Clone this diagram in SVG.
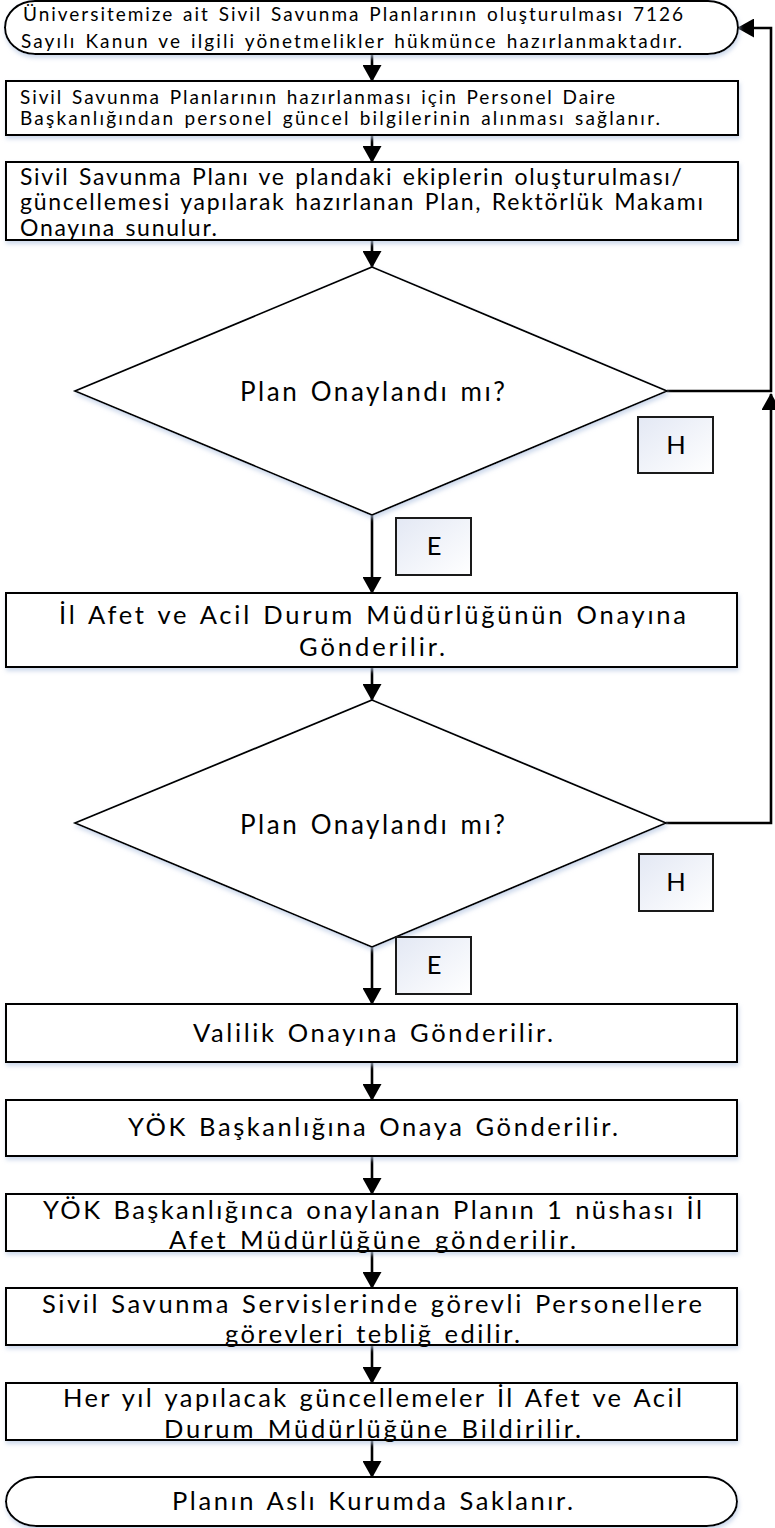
<svg xmlns="http://www.w3.org/2000/svg" width="775" height="1528" viewBox="0 0 775 1528">
<defs>
<style>
.shape{fill:#fff;stroke:#000;stroke-width:2;filter:url(#sh)}
.dia{fill:#fff;stroke:#000;stroke-width:1.8;filter:url(#sh)}
.lbl{fill:url(#lg);stroke:#1a1a1a;stroke-width:2}
.t{font-family:Lato,"Open Sans","Liberation Sans",sans-serif;fill:#000;word-spacing:2px}
.s15{font-size:19px}
.s18{font-size:23px}
.s19{font-size:25.5px}
.s20{font-size:26px}
.c{text-anchor:middle}
.con{fill:none;stroke:#000;stroke-width:2.6}
</style>
<linearGradient id="lg" x1="0" y1="0" x2="1" y2="1">
<stop offset="0" stop-color="#e3e8f4"/>
<stop offset="1" stop-color="#ffffff"/>
</linearGradient>
<filter id="sh" x="-5%" y="-10%" width="110%" height="130%">
<feDropShadow dx="1" dy="3" stdDeviation="2" flood-color="#b9c9e4" flood-opacity="0.7"/>
</filter>
<marker id="ah" viewBox="0 0 17 19" markerWidth="17" markerHeight="19" refX="16" refY="9.5" orient="auto" markerUnits="userSpaceOnUse">
<path d="M0,0 L17,9.5 L0,19 Z" fill="#000"/>
</marker>
</defs>
<rect width="775" height="1528" fill="#fff"/>

<g id="connectors">
<line class="con" x1="372" y1="54" x2="372" y2="81" marker-end="url(#ah)"/>
<line class="con" x1="372" y1="135" x2="372" y2="162" marker-end="url(#ah)"/>
<line class="con" x1="372" y1="240" x2="372" y2="267" marker-end="url(#ah)"/>
<line class="con" x1="372" y1="515" x2="372" y2="593" marker-end="url(#ah)"/>
<line class="con" x1="372" y1="667" x2="372" y2="700" marker-end="url(#ah)"/>
<line class="con" x1="372" y1="947" x2="372" y2="1004" marker-end="url(#ah)"/>
<line class="con" x1="372" y1="1062" x2="372" y2="1100" marker-end="url(#ah)"/>
<line class="con" x1="372" y1="1156" x2="372" y2="1194" marker-end="url(#ah)"/>
<line class="con" x1="372" y1="1251" x2="372" y2="1288" marker-end="url(#ah)"/>
<line class="con" x1="372" y1="1345" x2="372" y2="1383" marker-end="url(#ah)"/>
<line class="con" x1="372" y1="1440" x2="372" y2="1477" marker-end="url(#ah)"/>
<path class="con" d="M667,391 H771 V28 H738" marker-end="url(#ah)"/>
<path class="con" d="M666,823 H771 V394" marker-end="url(#ah)"/>
</g>

<g id="start">
<rect class="shape" x="5" y="1" width="733" height="53" rx="30" ry="26.5"/>
<text class="t s15" x="23" y="21" textLength="660" lengthAdjust="spacing">Üniversitemize ait Sivil Savunma Planlarının oluşturulması 7126</text>
<text class="t s15" x="21" y="48" textLength="661" lengthAdjust="spacing">Sayılı Kanun ve ilgili yönetmelikler hükmünce hazırlanmaktadır.</text>
</g>

<g id="step1">
<rect class="shape" x="6" y="81" width="732" height="54"/>
<text class="t s15" x="20" y="104" textLength="595" lengthAdjust="spacing">Sivil Savunma Planlarının hazırlanması için Personel Daire</text>
<text class="t s15" x="20" y="125" textLength="640" lengthAdjust="spacing">Başkanlığından personel güncel bilgilerinin alınması sağlanır.</text>
</g>

<g id="step2">
<rect class="shape" x="6" y="162" width="732" height="78"/>
<text class="t s18" x="20" y="185" textLength="662" lengthAdjust="spacing">Sivil Savunma Planı ve plandaki ekiplerin oluşturulması/</text>
<text class="t s18" x="20" y="210" textLength="683" lengthAdjust="spacing">güncellemesi yapılarak hazırlanan Plan, Rektörlük Makamı</text>
<text class="t s18" x="20" y="236" textLength="197" lengthAdjust="spacing">Onayına sunulur.</text>
</g>

<g id="decision1">
<polygon class="dia" points="372,267 667,391 372,515 75,391"/>
<text class="t s20" x="240" y="401" textLength="265" lengthAdjust="spacing">Plan Onaylandı mı?</text>
</g>
<g id="label-h1">
<rect class="lbl" x="638" y="417" width="75" height="56"/>
<text class="t s19 c" x="676" y="454">H</text>
</g>
<g id="label-e1">
<rect class="lbl" x="396" y="518" width="75" height="57"/>
<text class="t s19 c" x="434" y="555">E</text>
</g>

<g id="step3">
<rect class="shape" x="6" y="593" width="731" height="74"/>
<text class="t s19" x="59" y="624" textLength="627" lengthAdjust="spacing">İl Afet ve Acil Durum Müdürlüğünün Onayına</text>
<text class="t s19" x="299" y="656" textLength="146" lengthAdjust="spacing">Gönderilir.</text>
</g>

<g id="decision2">
<polygon class="dia" points="372,700 666,823 372,947 75,823"/>
<text class="t s20" x="240" y="834" textLength="265" lengthAdjust="spacing">Plan Onaylandı mı?</text>
</g>
<g id="label-h2">
<rect class="lbl" x="639" y="854" width="74" height="57"/>
<text class="t s19 c" x="676" y="891">H</text>
</g>
<g id="label-e2">
<rect class="lbl" x="396" y="937" width="75" height="57"/>
<text class="t s19 c" x="434" y="974">E</text>
</g>

<g id="step4">
<rect class="shape" x="6" y="1004" width="731" height="58"/>
<text class="t s19" x="193" y="1042" textLength="360" lengthAdjust="spacing">Valilik Onayına Gönderilir.</text>
</g>

<g id="step5">
<rect class="shape" x="6" y="1100" width="731" height="56"/>
<text class="t s19" x="128" y="1136" textLength="490" lengthAdjust="spacing">YÖK Başkanlığına Onaya Gönderilir.</text>
</g>

<g id="step6">
<rect class="shape" x="6" y="1194" width="731" height="57"/>
<text class="t s19" x="43" y="1219" textLength="659" lengthAdjust="spacing">YÖK Başkanlığınca onaylanan Planın 1 nüshası İl</text>
<text class="t s19" x="169" y="1249" textLength="407" lengthAdjust="spacing">Afet Müdürlüğüne gönderilir.</text>
</g>

<g id="step7">
<rect class="shape" x="6" y="1288" width="731" height="57"/>
<text class="t s19" x="42" y="1313" textLength="660" lengthAdjust="spacing">Sivil Savunma Servislerinde görevli Personellere</text>
<text class="t s19" x="225" y="1343" textLength="295" lengthAdjust="spacing">görevleri tebliğ edilir.</text>
</g>

<g id="step8">
<rect class="shape" x="6" y="1383" width="731" height="57"/>
<text class="t s19" x="63" y="1407" textLength="619" lengthAdjust="spacing">Her yıl yapılacak güncellemeler İl Afet ve Acil</text>
<text class="t s19" x="164" y="1438" textLength="417" lengthAdjust="spacing">Durum Müdürlüğüne Bildirilir.</text>
</g>

<g id="end">
<rect class="shape" x="6" y="1477" width="731" height="49" rx="30" ry="24.5"/>
<text class="t s19" x="172" y="1510" textLength="401" lengthAdjust="spacing">Planın Aslı Kurumda Saklanır.</text>
</g>
</svg>
